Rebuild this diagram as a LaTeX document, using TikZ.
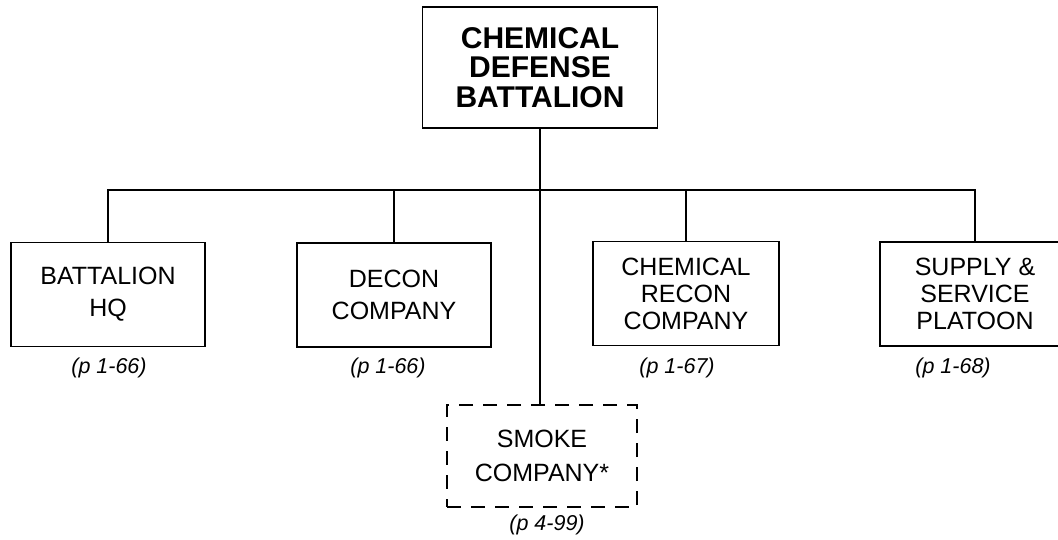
\documentclass[tikz,border=0pt]{standalone}
\usepackage{fontspec}
\setmainfont{Liberation Sans}
\begin{document}
\begin{tikzpicture}[x=1pt,y=-1pt,
  line width=1.8pt,
  box/.style={draw, line width=1.8pt, minimum width=#1, minimum height=104pt, inner sep=0pt, align=center,
    font=\fontsize{25}{32}\selectfont},
  box/.default=194pt,
  dbox/.style={draw, dash pattern=on 14pt off 10pt, line width=1.3pt, minimum width=190pt, minimum height=102pt,
    inner sep=0pt, align=center, font=\fontsize{25}{34}\selectfont},
  pref/.style={font=\fontsize{21.5}{24}\selectfont\itshape, inner sep=0pt},
  link/.style={line width=2pt}]
\useasboundingbox (0,0) rectangle (1058,540);
\clip (0,0) rectangle (1058,540);
\fill[white] (0,0) rectangle (1058,540);
\node[draw, line width=1.8pt, minimum width=235pt, minimum height=121pt, inner sep=0pt, align=center,
  font=\fontsize{30}{29.5}\selectfont\bfseries] (top) at (540,67.5) {CHEMICAL\\DEFENSE\\BATTALION};
\node[box] (hq) at (108,294.5) {BATTALION\\HQ};
\node[box] (decon) at (394,295) {DECON\\COMPANY};
\node[box=186pt, font=\fontsize{25}{27}\selectfont] (recon) at (686,293.5) {CHEMICAL\\RECON\\COMPANY};
\node[box=190pt, font=\fontsize{25}{27}\selectfont] (supply) at (975,294) {SUPPLY \&\\SERVICE\\PLATOON};
\node[dbox] (smoke) at (542,456) {SMOKE\\COMPANY*};
\node[pref] (phq) at (109,368) {(p 1-66)};
\node[pref] (pdecon) at (388,368) {(p 1-66)};
\node[pref] (precon) at (677,368) {(p 1-67)};
\node[pref] (psupply) at (953,368) {(p 1-68)};
\node[pref] (psmoke) at (547,525) {(p 4-99)};
\coordinate (barL) at (108,190);
\coordinate (barR) at (975,190);
\draw[link] (hq.north) -- (hq.north |- barL) -- (barR) -- (supply.north);
\draw[link] (decon.north) -- (decon.north |- barL);
\draw[link] (recon.north) -- (recon.north |- barL);
\draw[link] (top.south) -- (top.south |- smoke.north);
\end{tikzpicture}
\end{document}
